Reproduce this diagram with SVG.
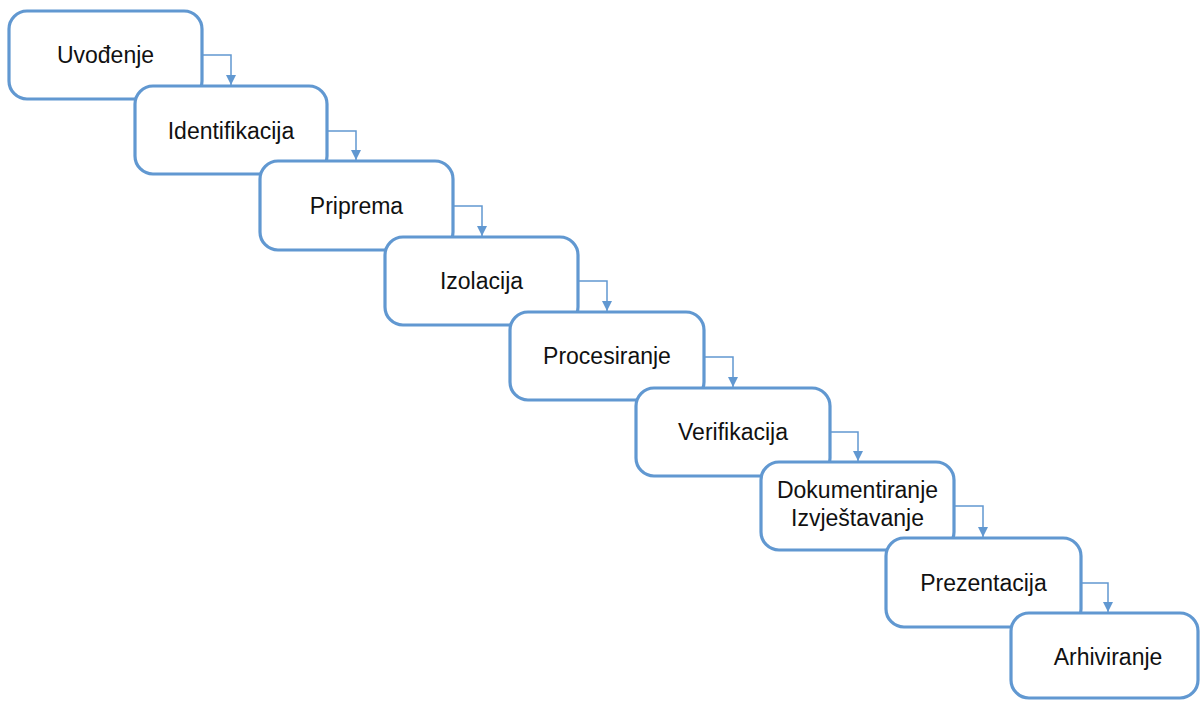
<svg xmlns="http://www.w3.org/2000/svg" width="1201" height="702" viewBox="0 0 1201 702">
<defs>
<style>
.box{fill:#ffffff;stroke:#6198d1;stroke-width:3.2}
.lbl{font-family:"Liberation Sans",Arial,sans-serif;font-size:23px;fill:#111111;text-anchor:middle}
.con{fill:none;stroke:#6198d1;stroke-width:1.5}
</style>
<marker id="ah" viewBox="0 0 10 10" refX="10" refY="5" markerWidth="10" markerHeight="10" markerUnits="userSpaceOnUse" orient="auto">
<path d="M0,0 L10,5 L0,10 z" fill="#6198d1"/>
</marker>
</defs>
<rect width="1201" height="702" fill="#ffffff"/>
<g id="n1"><rect class="box" x="9" y="11" width="193" height="88" rx="18"/><text class="lbl" x="105.5" y="63">Uvođenje</text></g>
<g id="n2"><rect class="box" x="135" y="86" width="192" height="88" rx="18"/><text class="lbl" x="231" y="139">Identifikacija</text></g>
<g id="n3"><rect class="box" x="260" y="161" width="193" height="89" rx="18"/><text class="lbl" x="356.5" y="214">Priprema</text></g>
<g id="n4"><rect class="box" x="385" y="237" width="193" height="88" rx="18"/><text class="lbl" x="481.5" y="289">Izolacija</text></g>
<g id="n5"><rect class="box" x="510" y="312" width="194" height="88" rx="18"/><text class="lbl" x="607" y="364">Procesiranje</text></g>
<g id="n6"><rect class="box" x="636" y="388" width="194" height="88" rx="18"/><text class="lbl" x="733" y="440">Verifikacija</text></g>
<g id="n7"><rect class="box" x="761" y="462" width="193" height="88" rx="18"/><text class="lbl" x="857.5" y="498">Dokumentiranje</text><text class="lbl" x="857.5" y="526">Izvještavanje</text></g>
<g id="n8"><rect class="box" x="886" y="538" width="195" height="89" rx="18"/><text class="lbl" x="983.5" y="591">Prezentacija</text></g>
<g id="n9"><rect class="box" x="1011" y="613" width="187" height="85" rx="18"/><text class="lbl" x="1108" y="665">Arhiviranje</text></g>
<g id="connectors">
<path class="con" d="M202,55 H231 V85" marker-end="url(#ah)"/>
<path class="con" d="M327,131 H356 V160" marker-end="url(#ah)"/>
<path class="con" d="M453,206 H482 V236" marker-end="url(#ah)"/>
<path class="con" d="M578,281 H607 V311" marker-end="url(#ah)"/>
<path class="con" d="M704,357 H733 V387" marker-end="url(#ah)"/>
<path class="con" d="M830,432 H858 V461" marker-end="url(#ah)"/>
<path class="con" d="M954,506 H983 V537" marker-end="url(#ah)"/>
<path class="con" d="M1081,583 H1108 V612" marker-end="url(#ah)"/>
</g>
</svg>
